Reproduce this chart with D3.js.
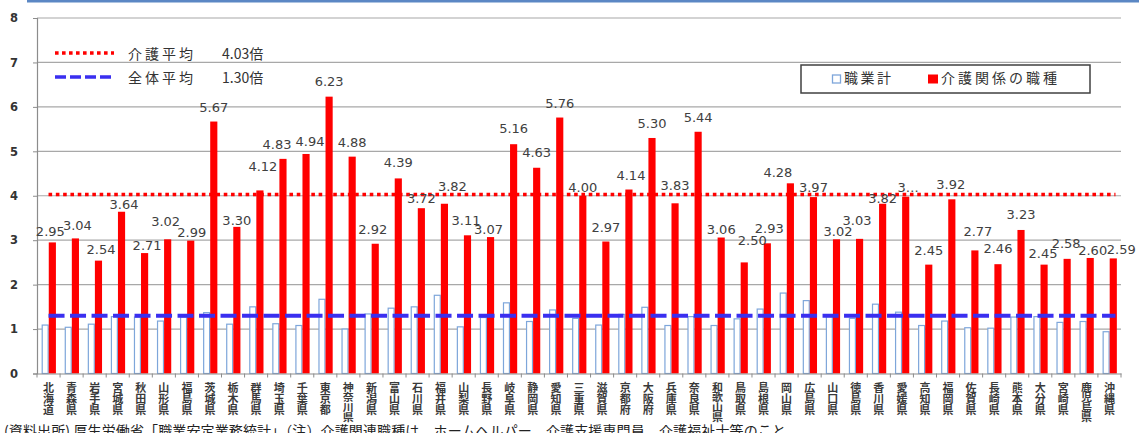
<!DOCTYPE html>
<html><head><meta charset="utf-8">
<script src="https://cdn.jsdelivr.net/npm/d3@7"></script>
<style>
html,body{margin:0;padding:0;background:#fff;overflow:hidden;}
svg{display:block;}
.vcat{writing-mode:vertical-rl;text-orientation:upright;}
</style></head>
<body>
<svg id="chart" width="1139" height="433"></svg>
<script>
const prefectures = ['北海道','青森県','岩手県','宮城県','秋田県','山形県','福島県','茨城県','栃木県','群馬県','埼玉県','千葉県','東京都','神奈川県','新潟県','富山県','石川県','福井県','山梨県','長野県','岐阜県','静岡県','愛知県','三重県','滋賀県','京都府','大阪府','兵庫県','奈良県','和歌山県','鳥取県','島根県','岡山県','広島県','山口県','徳島県','香川県','愛媛県','高知県','福岡県','佐賀県','長崎県','熊本県','大分県','宮崎県','鹿児島県','沖縄県'];
const careValues = [2.95,3.04,2.54,3.64,2.71,3.02,2.99,5.67,3.30,4.12,4.83,4.94,6.23,4.88,2.92,4.39,3.72,3.82,3.11,3.07,5.16,4.63,5.76,4.00,2.97,4.14,5.30,3.83,5.44,3.06,2.50,2.93,4.28,3.97,3.02,3.03,3.82,3.98,2.45,3.92,2.77,2.46,3.23,2.45,2.58,2.60,2.59];
const allValues = [1.09,1.04,1.11,1.28,1.27,1.18,1.27,1.37,1.11,1.50,1.12,1.08,1.67,1.00,1.34,1.47,1.50,1.76,1.05,1.26,1.59,1.17,1.43,1.24,1.09,1.33,1.49,1.08,1.28,1.08,1.23,1.45,1.81,1.64,1.28,1.24,1.56,1.38,1.08,1.18,1.03,1.02,1.27,1.28,1.15,1.17,0.94];
const truncatedLabels = {'愛媛県':'3…'};
const yTicks = [0,1,2,3,4,5,6,7,8];
const seriesNames = ['職業計','介護関係の職種'];
const avgNames = ['介護平均','全体平均'];
const avgValues = [4.03, 1.30];
const footnote = '(資料出所) 厚生労働省「職業安定業務統計」（注）介護関連職種は、ホームヘルパー、介護支援専門員、介護福祉士等のこと。';

// label placement tweaks (pixels) mimicking the original's hand-moved data labels
const labelNudge = {'北海道':[-2,4],'青森県':[2,2],'岩手県':[2.5,3],'宮城県':[2.5,7],'秋田県':[2.5,7],'山形県':[-2,-3],'福島県':[1,6],
  '栃木県':[0,8],'群馬県':[3,-9],'埼玉県':[-6,0],'千葉県':[4,2.5],'東京都':[0,-1],'新潟県':[-2.5,0],'富山県':[0,-1],'石川県':[0,5],
  '福井県':[8,-3],'山梨県':[-1.5,-0.5],'長野県':[-2,7],'岐阜県':[0,-1],'静岡県':[0,-1],'三重県':[0,6],'京都府':[2,0],'兵庫県':[0,-3],
  '和歌山県':[0,6],'鳥取県':[8,-7],'島根県':[2,0],'岡山県':[-12.5,4],'広島県':[0,4.5],'山口県':[1.5,6.6],'徳島県':[-2.5,-4],
  '香川県':[0,9],'愛媛県':[2.5,5],'福岡県':[-1,0],'佐賀県':[3,-4.5],'長崎県':[0,-1],'熊本県':[0,-1],'大分県':[-1,3.5],
  '宮崎県':[-1,-1],'鹿児島県':[2.5,7],'沖縄県':[8,5.5]};

const svg = d3.select('#chart');
const pLeft = 37, pRight = 1121, pTop = 18, pBottom = 373.5;
const CJK = '"Noto Sans CJK JP","Noto Sans",sans-serif';
const NUM = '"DejaVu Sans",sans-serif';

// top frame line
svg.append('rect').attr('x',27).attr('y',0).attr('width',1139-27).attr('height',2.5).attr('fill','#5b87c4');

const x = d3.scaleBand().domain(prefectures).range([pLeft,pRight]).paddingInner(0).paddingOuter(0);
const bw = x.bandwidth();
const sub = d3.scaleBand().domain(seriesNames).range([bw*0.2, bw*0.82]).padding(0);
const y = d3.scaleLinear().domain([0,8]).range([pBottom, pTop]);

// gridlines
svg.append('g').selectAll('line').data(yTicks.filter(t=>t>0)).join('line')
  .attr('x1',pLeft).attr('x2',pRight).attr('y1',d=>y(d)).attr('y2',d=>y(d))
  .attr('stroke','#a8a8a8').attr('stroke-width',1.2);

// y axis
const yAxis = svg.append('g').attr('transform',`translate(${pLeft},0)`)
  .call(d3.axisLeft(y).tickValues(yTicks).tickSize(4).tickPadding(15).tickFormat(d3.format('d')));
yAxis.select('.domain').attr('stroke','#8c8c8c').attr('stroke-width',1.2);
yAxis.selectAll('.tick line').attr('stroke','#8c8c8c');
yAxis.selectAll('.tick text').attr('font-family',NUM).attr('font-size',11.5).attr('font-weight','bold').attr('fill','#333');

// bars 職業計
svg.append('g').selectAll('rect').data(prefectures).join('rect')
  .attr('x',(d)=>x(d)+sub(seriesNames[0])+0.6)
  .attr('y',(d,i)=>y(allValues[i]))
  .attr('width',sub.bandwidth()-1.2)
  .attr('height',(d,i)=>pBottom-y(allValues[i]))
  .attr('fill','#fff').attr('stroke','#7ea6da').attr('stroke-width',1.2);

// bars 介護
svg.append('g').selectAll('rect').data(prefectures).join('rect')
  .attr('x',(d)=>x(d)+sub(seriesNames[1]))
  .attr('y',(d,i)=>y(careValues[i]))
  .attr('width',sub.bandwidth())
  .attr('height',(d,i)=>pBottom-y(careValues[i]))
  .attr('fill','#ff0000');

// x axis
const xAxis = svg.append('g').attr('transform',`translate(0,${pBottom})`)
  .call(d3.axisBottom(x).tickSize(0).tickFormat(''));
xAxis.select('.domain').attr('stroke','#8c8c8c').attr('stroke-width',1.2);
svg.append('g').selectAll('line').data(prefectures.concat(['__end'])).join('line')
  .attr('x1',(d,i)=>i<prefectures.length? x(d) : pRight)
  .attr('x2',(d,i)=>i<prefectures.length? x(d) : pRight)
  .attr('y1',pBottom).attr('y2',pBottom+4).attr('stroke','#8c8c8c');

// category labels (vertical writing)
svg.append('g').selectAll('text').data(prefectures).join('text')
  .attr('class','vcat')
  .attr('x',d=>x(d)+bw/2).attr('y',382.5)
  .attr('font-family',CJK).attr('font-weight','bold')
  .attr('font-size',11)
  .attr('fill','#3a3a3a')
  .each(function(d){ if(Array.from(d).length>3) d3.select(this).attr('textLength',40).attr('lengthAdjust','spacingAndGlyphs'); })
  .text(d=>d);

// average lines
const lineX1 = x(prefectures[0])+bw/2, lineX2 = x(prefectures[prefectures.length-1])+bw/2+6;
svg.append('line').attr('x1',lineX1).attr('x2',lineX2).attr('y1',y(avgValues[0])).attr('y2',y(avgValues[0]))
  .attr('stroke','#ff0000').attr('stroke-width',3.5).attr('stroke-dasharray','3.6,3.7');
svg.append('line').attr('x1',lineX1).attr('x2',lineX2).attr('y1',y(avgValues[1])).attr('y2',y(avgValues[1]))
  .attr('stroke','#3a2ff0').attr('stroke-width',3.8).attr('stroke-dasharray','16,5.5');

// value labels
svg.append('g').selectAll('text').data(prefectures).join('text')
  .attr('x',d=>x(d)+sub(seriesNames[1])+sub.bandwidth()/2+(labelNudge[d]?labelNudge[d][0]:0))
  .attr('y',(d,i)=>y(careValues[i])-10+(labelNudge[d]?labelNudge[d][1]:0))
  .attr('text-anchor','middle').attr('font-family',NUM).attr('font-size',13).attr('fill','#404040')
  .text((d,i)=>truncatedLabels[d] || careValues[i].toFixed(2));

// top-left legend
const lg = svg.append('g');
lg.append('line').attr('x1',55).attr('x2',114).attr('y1',53).attr('y2',53)
  .attr('stroke','#ff0000').attr('stroke-width',3.5).attr('stroke-dasharray','3.6,3.4');
lg.append('line').attr('x1',55).attr('x2',114).attr('y1',77).attr('y2',77)
  .attr('stroke','#3a2ff0').attr('stroke-width',3.5).attr('stroke-dasharray','11,4');
[0,1].forEach(i=>{
  lg.append('text').attr('x',128).attr('y',59+i*24).attr('font-family',CJK).attr('font-size',14)
    .attr('letter-spacing',3).attr('fill','#333').text(avgNames[i]);
  lg.append('text').attr('x',222).attr('y',59+i*24).attr('font-family',CJK).attr('font-size',14)
    .attr('fill','#333').text(avgValues[i].toFixed(2)+'倍');
});

// right legend
const rl = svg.append('g');
rl.append('rect').attr('x',801).attr('y',65).attr('width',289).attr('height',28)
  .attr('fill','#fff').attr('stroke','#404040').attr('stroke-width',1.5);
rl.append('rect').attr('x',832.5).attr('y',75).attr('width',8).attr('height',8)
  .attr('fill','#fff').attr('stroke','#7ea6da').attr('stroke-width',1.3);
rl.append('text').attr('x',844).attr('y',83).attr('font-family',CJK).attr('font-size',14)
  .attr('letter-spacing',2.5).attr('fill','#333').text(seriesNames[0]);
rl.append('rect').attr('x',928).attr('y',74.5).attr('width',10).attr('height',9).attr('fill','#ff0000');
rl.append('text').attr('x',941).attr('y',83).attr('font-family',CJK).attr('font-size',14)
  .attr('letter-spacing',3).attr('fill','#333').text(seriesNames[1]);

// footnote
svg.append('text').attr('x',4).attr('y',436).attr('font-family',CJK).attr('font-size',14)
  .attr('textLength',796).attr('lengthAdjust','spacing')
  .attr('fill','#222').text(footnote);
</script>
</body></html>
